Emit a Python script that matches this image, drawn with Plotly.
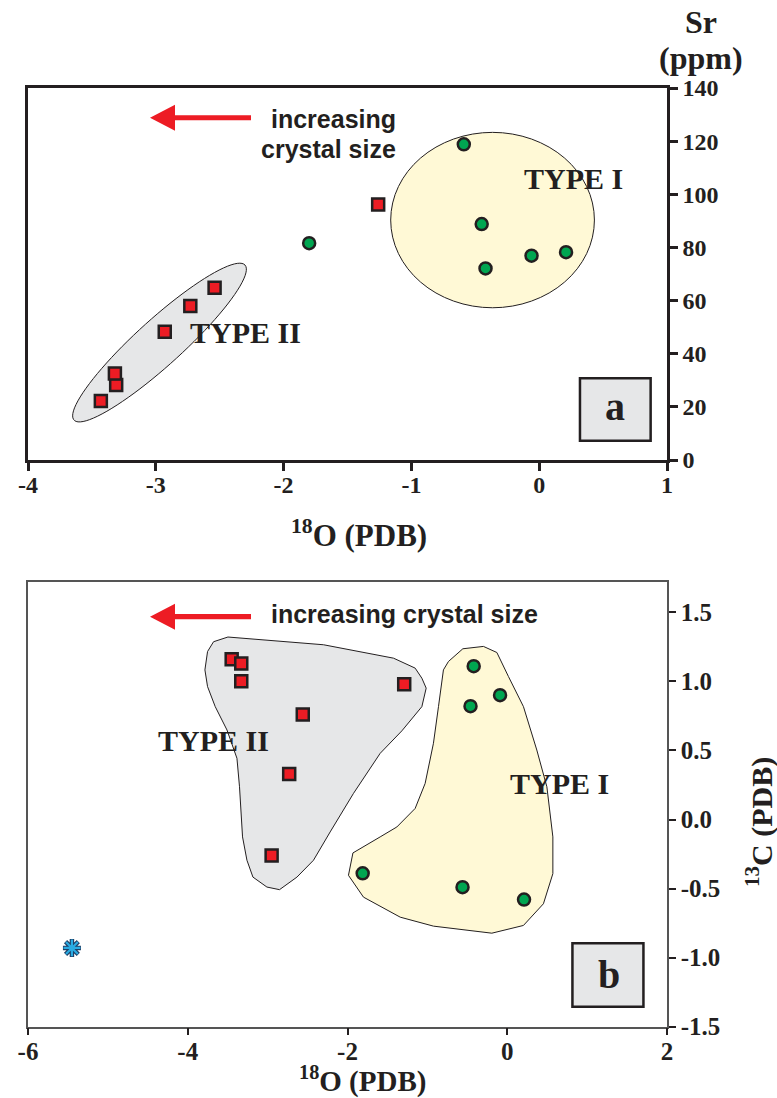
import numpy as np
import plotly.graph_objects as go

W, H = 777, 1098

# ---------------- data: panel a (d18O vs Sr) ----------------
a_sq_x = [-3.43, -3.31, -3.32, -2.93, -2.73, -2.54, -1.26]
a_sq_y = [22.2, 28.2, 32.6, 48.3, 58.0, 64.8, 96.2]
a_ci_x = [-1.80, -0.59, -0.45, -0.42, -0.06, 0.21]
a_ci_y = [81.6, 118.8, 88.8, 72.1, 76.9, 78.2]
a_xticks = [-4, -3, -2, -1, 0, 1]
a_xtext = ["-4", "-3", "-2", "-1", "0", "1"]
a_yticks = [0, 20, 40, 60, 80, 100, 120, 140]
a_ytext = ["0", "20", "40", "60", "80", "100", "120", "140"]

# ---------------- data: panel b (d18O vs d13C) ----------------
b_sq_x = [-3.45, -3.33, -3.33, -2.56, -2.73, -2.95, -1.29]
b_sq_y = [1.16, 1.13, 1.00, 0.76, 0.33, -0.26, 0.98]
b_ci_x = [-1.81, -0.42, -0.09, -0.46, -0.56, 0.21]
b_ci_y = [-0.39, 1.11, 0.90, 0.82, -0.49, -0.58]
b_st_x = [-5.45]
b_st_y = [-0.93]
b_xticks = [-6, -4, -2, 0, 2]
b_xtext = ["-6", "-4", "-2", "0", "2"]
b_yticks = [-1.5, -1.0, -0.5, 0.0, 0.5, 1.0, 1.5]
b_ytext = ["-1.5", "-1.0", "-0.5", "0.0", "0.5", "1.0", "1.5"]

# field outlines (data units)
typeII_b_x = [-3.497, -3.677, -3.752, -3.785, -3.752, -3.656, -3.509, -3.384, -3.352, -3.314,
              -3.259, -3.184, -3.009, -2.851, -2.633, -2.426, -2.217, -1.925, -1.591, -1.319,
              -1.069, -1.015, -1.069, -1.153, -1.424, -2.300]
typeII_b_y = [1.321, 1.287, 1.216, 1.083, 0.962, 0.817, 0.648, 0.443, 0.237, -0.126,
              -0.295, -0.417, -0.489, -0.508, -0.417, -0.295, -0.090, 0.189, 0.479, 0.642,
              0.817, 0.951, 1.023, 1.096, 1.168, 1.265]
typeI_b_x = [-0.556, -0.298, -0.130, 0.015, 0.203, 0.370, 0.496, 0.571, 0.571, 0.453,
             0.203, -0.193, -0.924, -1.340, -1.800, -1.988, -1.932, -1.591, -1.382, -1.153,
             -1.028, -0.924, -0.861, -0.799, -0.736]
typeI_b_y = [1.236, 1.253, 1.209, 1.035, 0.817, 0.503, 0.237, -0.126, -0.392, -0.610,
             -0.767, -0.823, -0.772, -0.707, -0.562, -0.404, -0.242, -0.126, -0.054, 0.080,
             0.261, 0.552, 0.817, 1.083, 1.144]

# ---------------- layout geometry ----------------
XL, XR = 28, 667
A_TOP, A_BOT = 88, 460
B_TOP, B_BOT = 581.7, 1026.7
a_xr = [-4, 1]
a_yr = [0, 140]
b_xr = [-6, 2]
b_ylo, b_yhi_tick = -1.5, 1.5
b_tickpx = 1026.7 - 612.3
b_kpy = b_tickpx / (b_yhi_tick - b_ylo)
b_yr = [-1.5, 1.5 + (612.3 - B_TOP) / b_kpy]

a_kx = (XR - XL) / (a_xr[1] - a_xr[0])
a_ky = (A_BOT - A_TOP) / (a_yr[1] - a_yr[0])
b_kx = (XR - XL) / (b_xr[1] - b_xr[0])
b_ky = (B_BOT - B_TOP) / (b_yr[1] - b_yr[0])

INK = "#231f20"
RED = "#ed1c24"
GREEN = "#00a651"
YEL = "#fff9d6"
GRY = "#e6e7e8"
SERIF = "Liberation Serif"
SANS = "Liberation Sans"

fig = go.Figure()

sq_style = dict(symbol="square", color=RED, size=12, line=dict(color=INK, width=2.5))
ci_style = dict(symbol="circle", color=GREEN, size=12, line=dict(color=INK, width=2.5))

fig.add_trace(go.Scatter(x=a_sq_x, y=a_sq_y, mode="markers", marker=sq_style, xaxis="x", yaxis="y"))
fig.add_trace(go.Scatter(x=a_ci_x, y=a_ci_y, mode="markers", marker=ci_style, xaxis="x", yaxis="y"))
fig.add_trace(go.Scatter(x=b_sq_x, y=b_sq_y, mode="markers", marker=sq_style, xaxis="x2", yaxis="y2"))
fig.add_trace(go.Scatter(x=b_ci_x, y=b_ci_y, mode="markers", marker=ci_style, xaxis="x2", yaxis="y2"))
fig.add_trace(go.Scatter(x=b_st_x, y=b_st_y, mode="markers",
                         marker=dict(symbol="asterisk-open", size=15, color="#1f3f66",
                                     line=dict(color="#1f3f66", width=4.5)),
                         xaxis="x2", yaxis="y2"))
fig.add_trace(go.Scatter(x=b_st_x, y=b_st_y, mode="markers",
                         marker=dict(symbol="asterisk-open", size=14, color="#29abe2",
                                     line=dict(color="#29abe2", width=2.2)),
                         xaxis="x2", yaxis="y2"))

shapes = []


def poly_path(xs, ys):
    return "M " + " L ".join(f"{x},{y}" for x, y in zip(xs, ys)) + " Z"


# panel a type I ellipse
shapes.append(dict(type="circle", xref="x", yref="y", x0=-1.162, x1=0.432, y0=57.3, y1=123.3,
                   fillcolor=YEL, line=dict(color=INK, width=1), layer="below"))
# panel a type II rotated ellipse (center in data, semi-axes in px)
cx, cy, sa, sb, ang = -2.971, 44.2, 115.4, 23.0, np.deg2rad(42.2)
t = np.linspace(0, 2 * np.pi, 90)
ex = cx + (sa * np.cos(t) * np.cos(ang) - sb * np.sin(t) * np.sin(ang)) / a_kx
ey = cy + (sa * np.cos(t) * np.sin(ang) + sb * np.sin(t) * np.cos(ang)) / a_ky
shapes.append(dict(type="path", xref="x", yref="y", path=poly_path(ex, ey),
                   fillcolor=GRY, line=dict(color=INK, width=1), layer="below"))
# panel b fields
shapes.append(dict(type="path", xref="x2", yref="y2", path=poly_path(typeII_b_x, typeII_b_y),
                   fillcolor=GRY, line=dict(color=INK, width=1), layer="below"))
shapes.append(dict(type="path", xref="x2", yref="y2", path=poly_path(typeI_b_x, typeI_b_y),
                   fillcolor=YEL, line=dict(color=INK, width=1), layer="below"))


# arrows (pixel geometry converted into data units)
def arrow(xr, yr, kx, ky, xax, yax, ypx):
    def X(px):
        return xr[0] + (px - XL) / kx
    yc = ypx
    tip, base, tail = X(150), X(175), X(251)
    hh, sh = 13 / ky, 2.6 / ky
    p = (f"M {tip},{yc} L {base},{yc + hh} L {base},{yc + sh} L {tail},{yc + sh} "
         f"L {tail},{yc - sh} L {base},{yc - sh} L {base},{yc - hh} Z")
    return dict(type="path", xref=xax, yref=yax, path=p, fillcolor=RED, line=dict(width=0))


shapes.append(arrow(a_xr, a_yr, a_kx, a_ky, "x", "y", 128.8))
shapes.append(arrow(b_xr, b_yr, b_kx, b_ky, "x2", "y2", 1.468))

# label boxes
shapes.append(dict(type="rect", xref="x", yref="y", x0=0.319, x1=0.872, y0=7.26, y1=30.75,
                   fillcolor=GRY, line=dict(color=INK, width=2.5)))
shapes.append(dict(type="rect", xref="x2", yref="y2", x0=0.816, x1=1.705, y0=-1.355, y1=-0.896,
                   fillcolor=GRY, line=dict(color=INK, width=2.5)))

ann = []


def txt(text, x, y, xref, yref, size, family=SERIF, xanchor="center", angle=0):
    ann.append(dict(text=text, x=x, y=y, xref=xref, yref=yref, showarrow=False,
                    xanchor=xanchor, yanchor="middle", textangle=angle,
                    font=dict(family=family, size=size, color=INK, weight="bold")))


txt("increasing", -1.105, 128.3, "x", "y", 25, SANS, "right")
txt("crystal size", -1.105, 117.0, "x", "y", 25, SANS, "right")
txt("increasing crystal size", -2.987, 1.485, "x2", "y2", 25, SANS, "left")
txt("TYPE II", -2.296, 48.0, "x", "y", 30)
txt("TYPE I", 0.267, 106.0, "x", "y", 30)
txt("TYPE II", -3.672, 0.57, "x2", "y2", 30)
txt("TYPE I", 0.655, 0.26, "x2", "y2", 30)
txt("a", 0.596, 20.0, "x", "y", 40)
txt("b", 1.276, -1.12, "x2", "y2", 40)
txt("Sr", 701 / W, 1 - 22 / H, "paper", "paper", 32)
txt("(ppm)", 701 / W, 1 - 58 / H, "paper", "paper", 32)
txt("<sup>18</sup>O (PDB)", 359 / W, 1 - 533 / H, "paper", "paper", 31)
txt("<sup>18</sup>O (PDB)", 362 / W, 1 - 1079 / H, "paper", "paper", 29)
txt("<sup>13</sup>C (PDB)", 759 / W, 1 - 822 / H, "paper", "paper", 30, angle=-90)

xdom = [XL / W, XR / W]
tickf = dict(family=SERIF, size=24, color=INK, weight="bold")
tickf_b = dict(family=SERIF, size=25, color=INK, weight="bold")

fig.update_layout(
    width=W, height=H, margin=dict(l=0, r=0, t=0, b=0, autoexpand=False),
    paper_bgcolor="white", plot_bgcolor="white", showlegend=False,
    shapes=shapes, annotations=ann,
    xaxis=dict(domain=xdom, range=a_xr, anchor="y", showgrid=False, zeroline=False,
               automargin=False, ticklabelstandoff=-7,
               showline=True, linewidth=2.5, linecolor=INK, mirror=True,
               ticks="outside", ticklen=8, tickwidth=2.5, tickcolor=INK,
               tickvals=a_xticks, ticktext=a_xtext, tickfont=tickf),
    yaxis=dict(domain=[1 - A_BOT / H, 1 - A_TOP / H], range=a_yr, anchor="x", side="right",
               automargin=False,
               showgrid=False, zeroline=False, showline=True, linewidth=2.5, linecolor=INK,
               mirror=True, ticks="outside", ticklen=8, tickwidth=2.5, tickcolor=INK,
               tickvals=a_yticks, ticktext=a_ytext, tickfont=tickf),
    xaxis2=dict(domain=xdom, range=b_xr, anchor="y2", showgrid=False, zeroline=False,
                automargin=False, ticklabelstandoff=-5,
                showline=True, linewidth=1.5, linecolor="#555555", mirror=True,
                ticks="outside", ticklen=7, tickwidth=2, tickcolor=INK,
                tickvals=b_xticks, ticktext=b_xtext, tickfont=tickf_b),
    yaxis2=dict(domain=[1 - B_BOT / H, 1 - B_TOP / H], range=b_yr, anchor="x2", side="right",
                automargin=False,
                showgrid=False, zeroline=False, showline=True, linewidth=1.5, linecolor="#555555",
                mirror=True, ticks="outside", ticklen=7, tickwidth=2, tickcolor=INK,
                tickvals=b_yticks, ticktext=b_ytext, tickfont=tickf_b),
)

fig.write_html("out.html", config={"displayModeBar": False},
               post_script="document.body.style.margin='0';document.body.style.overflow='hidden';")
